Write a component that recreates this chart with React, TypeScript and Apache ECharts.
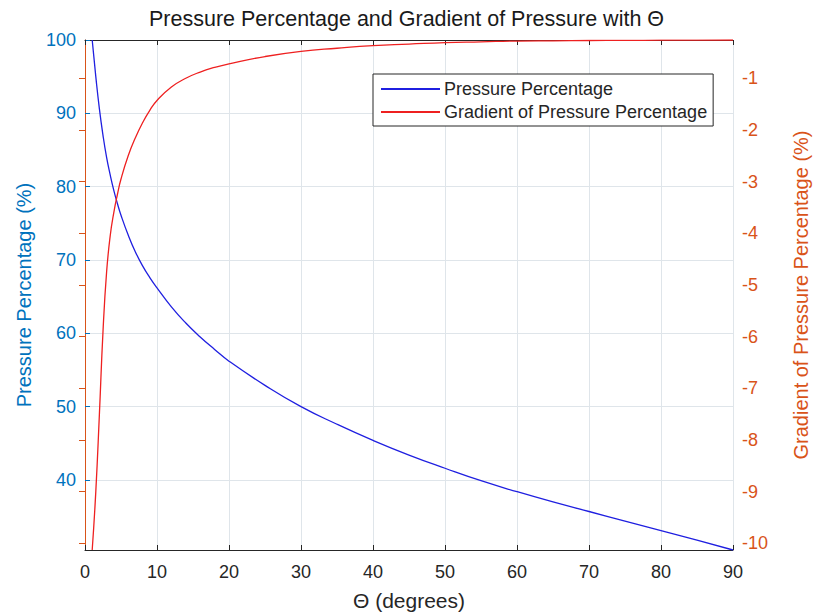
import React, { useEffect, useRef } from "react";
import * as echarts from "echarts";

const thetaDeg = [1, 1.5, 2, 2.5, 3, 3.5, 4, 4.5, 5, 6, 7, 8, 9, 10, 12, 14, 16, 18, 20, 25, 30, 35, 40, 45, 50, 55, 60, 65, 70, 75, 80, 85, 90];
const pressurePct = [100, 95.0, 90.6, 87.0, 84.0, 81.6, 79.5, 77.7, 76.1, 73.4, 71.1, 69.2, 67.6, 66.2, 63.6, 61.4, 59.5, 57.8, 56.2, 52.9, 50.0, 47.6, 45.4, 43.4, 41.6, 39.9, 38.4, 37.0, 35.7, 34.4, 33.1, 31.8, 30.45];
const gradientPct = [-10.13, -9.0, -7.5, -5.9, -4.75, -4.05, -3.6, -3.25, -2.95, -2.5, -2.15, -1.86, -1.62, -1.43, -1.17, -1.0, -0.88, -0.79, -0.72, -0.58, -0.48, -0.42, -0.37, -0.34, -0.31, -0.295, -0.28, -0.275, -0.27, -0.267, -0.264, -0.262, -0.26];

const xTicks = [0, 10, 20, 30, 40, 50, 60, 70, 80, 90];

const FONT = "'Liberation Sans', Arial, Helvetica, sans-serif";
const DARK = "#262626";
const BLUE = "#0072BD";
const ORANGE = "#D95319";
const GRID = "#dfe5ea";

export default function App() {
  const ref = useRef<HTMLDivElement>(null);
  useEffect(() => {
    document.body.style.margin = "0";
    if (!ref.current) return;
    const chart = echarts.init(ref.current, null, { renderer: "svg" });
    const pData = thetaDeg.map((t, i) => [t, pressurePct[i]]);
    const gData = thetaDeg.map((t, i) => [t, gradientPct[i]]);
    chart.setOption({
      animation: false,
      backgroundColor: "#ffffff",
      textStyle: { fontFamily: FONT },
      title: {
        text: "Pressure Percentage and Gradient of Pressure with \u0398",
        left: "center",
        top: 8,
        padding: 0,
        textStyle: { fontSize: 21.5, fontWeight: "normal", color: "#1a1a1a", fontFamily: FONT },
      },
      legend: {
        orient: "vertical",
        left: 373,
        top: 74,
        padding: [6, 6, 5, 7],
        itemGap: 5,
        itemWidth: 59,
        itemHeight: 14,
        backgroundColor: "#ffffff",
        borderColor: DARK,
        borderWidth: 1,
        borderRadius: 0,
        itemStyle: { opacity: 0, color: "transparent", borderWidth: 0 },
        textStyle: { fontSize: 18, color: DARK, fontFamily: FONT, padding: [0, 0, 0, -1] },
        data: ["Pressure Percentage", "Gradient of Pressure Percentage"],
      },
      grid: { left: 85, right: 80, top: 40, bottom: 65, containLabel: false, outerBoundsMode: "none" },
      xAxis: [
        {
          type: "value",
          min: xTicks[0],
          max: xTicks[xTicks.length - 1],
          interval: 10,
          position: "bottom",
          name: "\u0398 (degrees)",
          nameLocation: "middle",
          nameGap: 40,
          nameTextStyle: { fontSize: 21, color: DARK, fontFamily: FONT },
          axisLine: { show: true, lineStyle: { color: DARK, width: 1 } },
          axisTick: { show: true, inside: true, length: 5, lineStyle: { color: DARK } },
          axisLabel: { fontSize: 18, color: DARK, margin: 13, fontFamily: FONT },
          splitLine: { show: true, lineStyle: { color: GRID, width: 1 } },
        },
        {
          type: "value",
          min: xTicks[0],
          max: xTicks[xTicks.length - 1],
          interval: 10,
          position: "top",
          axisLine: { show: true, onZero: false, lineStyle: { color: DARK, width: 1 } },
          axisTick: { show: true, inside: true, length: 5, lineStyle: { color: DARK } },
          axisLabel: { show: false },
          splitLine: { show: false },
        },
      ],
      yAxis: [
        {
          type: "value",
          min: 30.45,
          max: 100,
          splitNumber: 7,
          position: "left",
          name: "Pressure Percentage (%)",
          nameLocation: "middle",
          nameGap: 51,
          nameTextStyle: { fontSize: 20, color: BLUE, fontFamily: FONT },
          axisLine: { show: true, lineStyle: { color: BLUE, width: 1 } },
          axisTick: { show: true, inside: true, length: 5, lineStyle: { color: BLUE } },
          axisLabel: {
            fontSize: 18,
            color: BLUE,
            margin: 9,
            fontFamily: FONT,
            showMinLabel: false,
            formatter: (v: number) => (Math.abs(v - Math.round(v)) < 1e-6 && Math.round(v) % 10 === 0 ? String(Math.round(v)) : ""),
          },
          splitLine: { show: true, lineStyle: { color: GRID, width: 1 } },
        },
        {
          type: "value",
          min: -10.13,
          max: -0.26,
          splitNumber: 9,
          position: "right",
          name: "Gradient of Pressure Percentage (%)",
          nameLocation: "middle",
          nameGap: 58,
          nameTextStyle: { fontSize: 20, color: ORANGE, fontFamily: FONT },
          axisLine: { show: true, lineStyle: { color: ORANGE, width: 1 } },
          axisTick: { show: true, inside: true, length: 6, lineStyle: { color: ORANGE } },
          axisLabel: {
            fontSize: 18,
            color: ORANGE,
            margin: 9,
            fontFamily: FONT,
            showMinLabel: false,
            showMaxLabel: false,
            formatter: (v: number) => (Math.abs(v - Math.round(v)) < 1e-6 ? String(Math.round(v)) : ""),
          },
          splitLine: { show: false },
        },
      ],
      series: [
        {
          name: "Pressure Percentage",
          type: "line",
          xAxisIndex: 0,
          yAxisIndex: 0,
          data: pData,
          symbol: "none",
          smooth: 0.5,
          lineStyle: { color: "#1f1fe0", width: 1.3 },
          itemStyle: { color: "#1f1fe0" },
          z: 3,
        },
        {
          name: "Gradient of Pressure Percentage",
          type: "line",
          xAxisIndex: 0,
          yAxisIndex: 1,
          data: gData,
          symbol: "none",
          smooth: 0.5,
          lineStyle: { color: "#ee2020", width: 1.3 },
          itemStyle: { color: "#ee2020" },
          z: 3,
        },
      ],
    });
    return () => chart.dispose();
  }, []);
  return <div ref={ref} style={{ width: 813, height: 615 }} />;
}
